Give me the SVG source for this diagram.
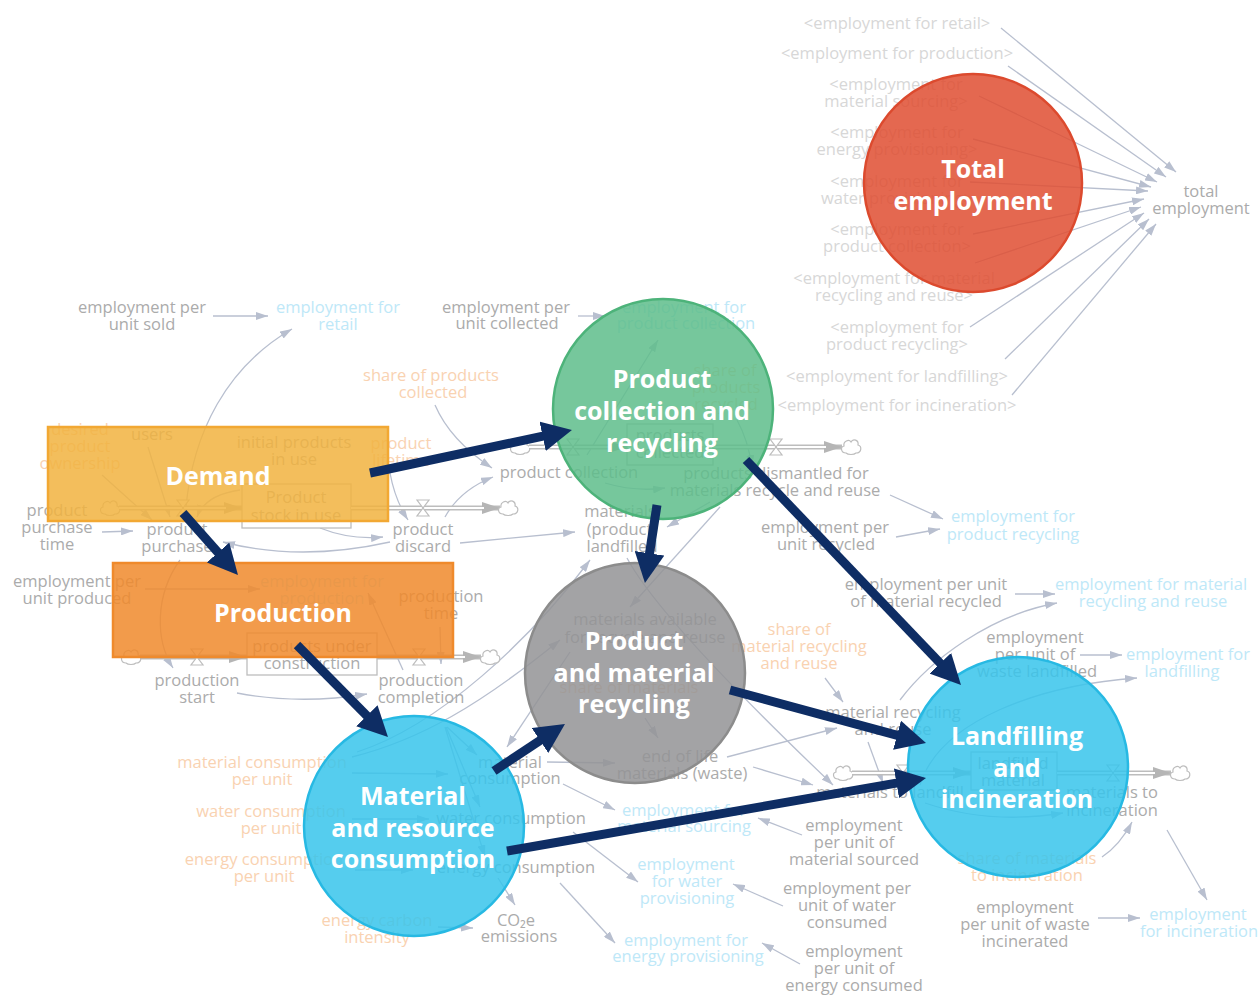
<svg xmlns="http://www.w3.org/2000/svg" width="1259" height="996" viewBox="0 0 1259 996">
<style>
text{font-family:'Open Sans','Liberation Sans',sans-serif;font-size:16.5px;text-anchor:middle}
.g{fill:#ABABAB}
.b{fill:#BEE8F8}
.o{fill:#F9D2B1}
.r{fill:#D7D7D7}
.c{fill:none;stroke:#B8BFCF;stroke-width:1.3;marker-end:url(#ah)}
.box{fill:#fff;stroke:#BDBDBD;stroke-width:1.3}
.pipe{fill:none;stroke:#BDBDBD;stroke-width:5;marker-end:url(#ph)}
.pin{fill:none;stroke:#fff;stroke-width:2.2}
.ov{fill-opacity:0.85;stroke-width:2.5}
.t{font-weight:700;font-size:25px;fill:#fff}
.nv{stroke:#0E2D64;stroke-width:9;fill:none;marker-end:url(#nh)}
</style>
<defs>
<marker id="ah" viewBox="0 0 12 8" refX="12" refY="4" markerWidth="12" markerHeight="8" markerUnits="userSpaceOnUse" orient="auto"><path d="M0,0 L12,4 L0,8 Z" fill="#B8BFCF"/></marker>
<marker id="ph" viewBox="0 0 18 12" refX="18" refY="6" markerWidth="18" markerHeight="12" markerUnits="userSpaceOnUse" orient="auto"><path d="M0,0 L18,6 L0,12 Z" fill="#B5B5B5"/></marker>
<marker id="nh" viewBox="0 0 30 30" refX="10" refY="15" markerWidth="30" markerHeight="30" markerUnits="userSpaceOnUse" orient="auto"><path d="M0,0 L30,15 L0,30 Z" fill="#0E2D64"/></marker>
<g id="cloud"><path d="M-5,6 C-10,6 -11,0 -7,-1 C-8,-6 -2,-8 0,-5 C2,-9 8,-7 7,-2 C11,-1 11,6 5,6 C3,8 -3,8 -5,6 Z" fill="#fff" stroke="#BDBDBD" stroke-width="1.2"/></g>
<g id="valve"><path d="M-6,-8 H6 L-6,8 H6 Z" fill="#fff" stroke="#BDBDBD" stroke-width="1.2"/></g>
</defs>
<rect width="1259" height="996" fill="#fff"/>

<!-- stock and flow model (background) -->
<g id="model-connectors">
  <!-- into total employment -->
  <path class="c" d="M1001,28 L1176,172"/>
  <path class="c" d="M1008,66 L1166,177"/>
  <path class="c" d="M979,96 L1157,182"/>
  <path class="c" d="M973,139 L1151,187"/>
  <path class="c" d="M970,182 L1148,191"/>
  <path class="c" d="M973,234 L1144,199"/>
  <path class="c" d="M975,263 L1141,207"/>
  <path class="c" d="M970,327 L1144,213"/>
  <path class="c" d="M1005,359 L1149,219"/>
  <path class="c" d="M1012,395 L1156,224"/>
  <!-- demand -->
  <path class="c" d="M213,316 L268,316"/>
  <path class="c" d="M185,520 C190,430 230,365 292,329"/>
  <path class="c" d="M102,475 L152,520"/>
  <path class="c" d="M148,447 L170,517"/>
  <path class="c" d="M240,490 Q205,495 197,517"/>
  <path class="c" d="M102,532 L133,531"/>
  <path class="c" d="M320,528 Q350,540 383,537"/>
  <path class="c" d="M390,542 Q300,562 223,542"/>
  <path class="c" d="M390,473 Q395,500 408,520"/>
  <path class="c" d="M445,517 Q460,490 493,477"/>
  <path class="c" d="M435,405 Q450,440 492,468"/>
  <path class="c" d="M460,543 L575,532"/>
  <!-- production -->
  <path class="c" d="M145,589 L260,589"/>
  <path class="c" d="M180,560 C155,595 155,640 173,668"/>
  <path class="c" d="M237,693 Q300,705 367,694"/>
  <path class="c" d="M403,670 L368,593"/>
  <path class="c" d="M440,627 L441,664"/>
  <!-- consumption -->
  <path class="c" d="M352,773 L448,774"/>
  <path class="c" d="M352,819 L429,819"/>
  <path class="c" d="M355,870 L413,870"/>
  <path class="c" d="M438,927 L473,928"/>
  <path class="c" d="M498,878 L515,905"/>
  <path class="c" d="M447,727 L477,755"/>
  <path class="c" d="M446,727 L480,807"/>
  <path class="c" d="M445,727 L485,857"/>
  <path class="c" d="M352,757 C420,740 480,705 560,640"/>
  <path class="c" d="M357,752 C440,725 530,640 590,560"/>
  <path class="c" d="M547,762 L615,763"/>
  <path class="c" d="M563,784 L615,810"/>
  <path class="c" d="M573,832 L638,882"/>
  <path class="c" d="M560,883 L615,943"/>
  <path class="c" d="M802,835 L758,818"/>
  <path class="c" d="M783,906 L733,884"/>
  <path class="c" d="M800,964 L762,943"/>
  <!-- collection and recycling -->
  <path class="c" d="M578,316 L605,316"/>
  <path class="c" d="M587,455 L658,340"/>
  <path class="c" d="M605,483 Q635,492 665,488"/>
  <path class="c" d="M737,420 Q748,440 752,467"/>
  <path class="c" d="M710,502 L667,527"/>
  <path class="c" d="M720,507 L630,607"/>
  <path class="c" d="M570,652 L507,747"/>
  <path class="c" d="M645,718 L658,738"/>
  <path class="c" d="M627,558 Q660,620 833,785"/>
  <path class="c" d="M825,678 L843,702"/>
  <path class="c" d="M727,757 L837,728"/>
  <path class="c" d="M753,767 L813,785"/>
  <path class="c" d="M868,742 L883,783"/>
  <path class="c" d="M890,495 L943,519"/>
  <path class="c" d="M896,537 L940,529"/>
  <path class="c" d="M1015,594 L1055,594"/>
  <path class="c" d="M900,700 C930,660 990,615 1057,603"/>
  <path class="c" d="M1080,655 L1122,655"/>
  <path class="c" d="M920,785 C940,720 1040,685 1137,678"/>
  <path class="c" d="M925,803 Q990,825 1063,813"/>
  <path class="c" d="M1102,857 Q1120,845 1132,822"/>
  <path class="c" d="M1098,918 L1140,918"/>
  <path class="c" d="M1167,830 L1207,900"/>
</g>

<g id="model-flows">
  <!-- product stock in use -->
  <use href="#cloud" x="110" y="508"/>
  <path class="pipe" d="M119,508 L242,508"/><path class="pin" d="M119,508 L226,508"/>
  <use href="#valve" x="183" y="508"/>
  <rect class="box" x="242" y="484" width="109" height="44"/>
  <path class="pipe" d="M351,508 L500,508"/><path class="pin" d="M351,508 L484,508"/>
  <use href="#valve" x="423" y="508"/>
  <use href="#cloud" x="508" y="508"/>
  <!-- products under construction -->
  <use href="#cloud" x="131" y="657"/>
  <path class="pipe" d="M140,657 L247,657"/><path class="pin" d="M140,657 L231,657"/>
  <use href="#valve" x="197" y="657"/>
  <rect class="box" x="247" y="633" width="130" height="42"/>
  <path class="pipe" d="M377,657 L481,657"/><path class="pin" d="M377,657 L465,657"/>
  <use href="#valve" x="419" y="657"/>
  <use href="#cloud" x="490" y="657"/>
  <!-- products collected -->
  <use href="#cloud" x="520" y="447"/>
  <path class="pipe" d="M529,447 L627,447"/><path class="pin" d="M529,447 L611,447"/>
  <use href="#valve" x="573" y="447"/>
  <rect class="box" x="627" y="424" width="86" height="41"/>
  <path class="pipe" d="M713,447 L842,447"/><path class="pin" d="M713,447 L826,447"/>
  <use href="#valve" x="776" y="447"/>
  <use href="#cloud" x="851" y="447"/>
  <!-- landfilled material -->
  <use href="#cloud" x="843" y="773"/>
  <path class="pipe" d="M852,773 L971,773"/><path class="pin" d="M852,773 L955,773"/>
  <use href="#valve" x="903" y="773"/>
  <rect class="box" x="971" y="752" width="86" height="38"/>
  <path class="pipe" d="M1057,773 L1171,773"/><path class="pin" d="M1057,773 L1155,773"/>
  <use href="#valve" x="1113" y="773"/>
  <use href="#cloud" x="1180" y="773"/>
</g>

<g id="model-labels">
  <!-- shadow variables -->
  <text class="r" x="897" y="29">&lt;employment for retail&gt;</text>
  <text class="r" x="897" y="59">&lt;employment for production&gt;</text>
  <text class="r" x="896" y="90">&lt;employment for<tspan x="896" dy="17">material sourcing&gt;</tspan></text>
  <text class="r" x="897" y="138">&lt;employment for<tspan x="897" dy="17">energy provisioning&gt;</tspan></text>
  <text class="r" x="897" y="187">&lt;employment for<tspan x="897" dy="17">water provisioning&gt;</tspan></text>
  <text class="r" x="897" y="235">&lt;employment for<tspan x="897" dy="17">product collection&gt;</tspan></text>
  <text class="r" x="894" y="284">&lt;employment for material<tspan x="894" dy="17">recycling and reuse&gt;</tspan></text>
  <text class="r" x="897" y="333">&lt;employment for<tspan x="897" dy="17">product recycling&gt;</tspan></text>
  <text class="r" x="897" y="382">&lt;employment for landfilling&gt;</text>
  <text class="r" x="897" y="411">&lt;employment for incineration&gt;</text>
  <text class="g" x="1201" y="197">total<tspan x="1201" dy="17">employment</tspan></text>
  <!-- demand -->
  <text class="g" x="142" y="313">employment per<tspan x="142" dy="17">unit sold</tspan></text>
  <text class="b" x="338" y="313">employment for<tspan x="338" dy="17">retail</tspan></text>
  <text class="o" x="80" y="435">desired<tspan x="80" dy="17">product</tspan><tspan x="80" dy="17">ownership</tspan></text>
  <text class="g" x="152" y="440">users</text>
  <text class="g" x="294" y="448">initial products<tspan x="294" dy="17">in use</tspan></text>
  <text class="o" x="401" y="449">product<tspan x="401" dy="17">lifetime</tspan></text>
  <text class="g" x="296" y="503">Product<tspan x="296" dy="18">stock in use</tspan></text>
  <text class="g" x="57" y="516">product<tspan x="57" dy="17">purchase</tspan><tspan x="57" dy="17">time</tspan></text>
  <text class="g" x="177" y="535">product<tspan x="177" dy="17">purchase</tspan></text>
  <text class="g" x="423" y="535">product<tspan x="423" dy="17">discard</tspan></text>
  <text class="o" x="431" y="381">share of products<tspan x="433" dy="17">collected</tspan></text>
  <!-- production -->
  <text class="g" x="77" y="587">employment per<tspan x="77" dy="17">unit produced</tspan></text>
  <text class="b" x="322" y="587">employment for<tspan x="322" dy="17">production</tspan></text>
  <text class="g" x="441" y="602">production<tspan x="441" dy="17">time</tspan></text>
  <text class="g" x="312" y="652">products under<tspan x="312" dy="17">construction</tspan></text>
  <text class="g" x="197" y="686">production<tspan x="197" dy="17">start</tspan></text>
  <text class="g" x="421" y="686">production<tspan x="421" dy="17">completion</tspan></text>
  <!-- consumption -->
  <text class="o" x="262" y="768">material consumption<tspan x="262" dy="17">per unit</tspan></text>
  <text class="o" x="271" y="817">water consumption<tspan x="271" dy="17">per unit</tspan></text>
  <text class="o" x="264" y="865">energy consumption<tspan x="264" dy="17">per unit</tspan></text>
  <text class="o" x="377" y="926">energy carbon<tspan x="377" dy="17">intensity</tspan></text>
  <text class="g" x="510" y="768">material<tspan x="510" dy="16">consumption</tspan></text>
  <text class="g" x="511" y="824">water consumption</text>
  <text class="g" x="516" y="873">energy consumption</text>
  <text class="g" x="516" y="926">CO₂e<tspan x="519" dy="16">emissions</tspan></text>
  <text class="b" x="684" y="816">employment for<tspan x="684" dy="16">material sourcing</tspan></text>
  <text class="b" x="686" y="870">employment<tspan x="687" dy="17">for water</tspan><tspan x="687" dy="17">provisioning</tspan></text>
  <text class="b" x="686" y="946">employment for<tspan x="688" dy="16">energy provisioning</tspan></text>
  <text class="g" x="854" y="831">employment<tspan x="854" dy="17">per unit of</tspan><tspan x="854" dy="17">material sourced</tspan></text>
  <text class="g" x="847" y="894">employment per<tspan x="847" dy="17">unit of water</tspan><tspan x="847" dy="17">consumed</tspan></text>
  <text class="g" x="854" y="957">employment<tspan x="854" dy="17">per unit of</tspan><tspan x="854" dy="17">energy consumed</tspan></text>
  <!-- collection and recycling -->
  <text class="g" x="506" y="313">employment per<tspan x="507" dy="16">unit collected</tspan></text>
  <text class="b" x="684" y="313">employment for<tspan x="686" dy="16">product collection</tspan></text>
  <text class="o" x="725" y="376">share of<tspan x="726" dy="17">products</tspan><tspan x="726" dy="17">recycled</tspan></text>
  <text class="g" x="670" y="441">products<tspan x="670" dy="17">collected</tspan></text>
  <text class="g" x="569" y="478">product collection</text>
  <text class="g" x="776" y="479">products dismantled for<tspan x="775" dy="17">materials recycle and reuse</tspan></text>
  <text class="g" x="620" y="517">materials<tspan x="622" dy="18">(product)</tspan><tspan x="622" dy="17">landfilled</tspan></text>
  <text class="g" x="825" y="533">employment per<tspan x="826" dy="17">unit recycled</tspan></text>
  <text class="b" x="1013" y="522">employment for<tspan x="1013" dy="18">product recycling</tspan></text>
  <text class="g" x="645" y="625">materials available<tspan x="645" dy="18">for recycle and reuse</tspan></text>
  <text class="o" x="629" y="693">share of materials</text>
  <text class="o" x="799" y="635">share of<tspan x="799" dy="17">material recycling</tspan><tspan x="799" dy="17">and reuse</tspan></text>
  <text class="g" x="680" y="762">end of life<tspan x="682" dy="17">materials (waste)</tspan></text>
  <text class="g" x="926" y="590">employment per unit<tspan x="926" dy="17">of material recycled</tspan></text>
  <text class="b" x="1151" y="590">employment for material<tspan x="1153" dy="17">recycling and reuse</tspan></text>
  <text class="g" x="1035" y="643">employment<tspan x="1035" dy="17">per unit of</tspan><tspan x="1037" dy="17">waste landfilled</tspan></text>
  <text class="b" x="1188" y="660">employment for<tspan x="1182" dy="17">landfilling</tspan></text>
  <text class="g" x="893" y="718">material recycling<tspan x="893" dy="17">and reuse</tspan></text>
  <text class="g" x="1013" y="769">landfilled<tspan x="1013" dy="17">material</tspan></text>
  <text class="g" x="890" y="798">materials to landfill</text>
  <text class="g" x="1112" y="798">materials to<tspan x="1112" dy="18">incineration</tspan></text>
  <text class="o" x="1027" y="864">share of materials<tspan x="1027" dy="17">to incineration</tspan></text>
  <text class="g" x="1025" y="913">employment<tspan x="1025" dy="17">per unit of waste</tspan><tspan x="1025" dy="17">incinerated</tspan></text>
  <text class="b" x="1198" y="920">employment<tspan x="1199" dy="17">for incineration</tspan></text>
</g>

<!-- sector overlays -->
<g id="total-employment">
  <circle class="ov" cx="973" cy="183" r="109" fill="#DF4E31" stroke="#DC4A2E"/>
  <text class="t" x="973" y="178">Total<tspan x="973" dy="32">employment</tspan></text>
</g>
<g id="demand">
  <rect class="ov" x="48" y="427" width="340" height="94" fill="#F1B33F" stroke="#F2A833"/>
  <text class="t" x="218" y="485">Demand</text>
</g>
<g id="production">
  <rect class="ov" x="113" y="563" width="340" height="94" fill="#F0892B" stroke="#EF8A2C"/>
  <text class="t" x="283" y="622">Production</text>
</g>
<g id="product-collection">
  <circle class="ov" cx="663" cy="409" r="110" fill="#5EBD8B" stroke="#4DB37A"/>
  <text class="t" x="662" y="388">Product<tspan x="662" dy="32">collection and</tspan><tspan x="662" dy="32">recycling</tspan></text>
</g>
<g id="material-recycling">
  <circle class="ov" cx="635" cy="673" r="110" fill="#939395" stroke="#8C8C8C"/>
  <text class="t" x="634" y="650">Product<tspan x="634" dy="32">and material</tspan><tspan x="634" dy="31">recycling</tspan></text>
</g>
<g id="resource-consumption">
  <circle class="ov" cx="414" cy="826" r="110" fill="#37C4EB" stroke="#27B9E3"/>
  <text class="t" x="413" y="805">Material<tspan x="413" dy="32">and resource</tspan><tspan x="413" dy="31">consumption</tspan></text>
</g>
<g id="landfilling">
  <circle class="ov" cx="1018" cy="767" r="110" fill="#37C4EB" stroke="#27B9E3"/>
  <text class="t" x="1017" y="745">Landfilling<tspan x="1017" dy="32">and</tspan><tspan x="1017" dy="31">incineration</tspan></text>
</g>

<!-- sector links -->
<g id="sector-links">
  <path class="nv" d="M370,473 L552.4,434.2"/>
  <path class="nv" d="M183,513 L224.7,560"/>
  <path class="nv" d="M297,645 L373.9,722.8"/>
  <path class="nv" d="M494,771 L548.3,735"/>
  <path class="nv" d="M657,505 L648,563.2"/>
  <path class="nv" d="M746,460 L947.2,670.5"/>
  <path class="nv" d="M730,690 L906.7,737.8"/>
  <path class="nv" d="M507,851 L906.3,781.4"/>
</g>
</svg>
